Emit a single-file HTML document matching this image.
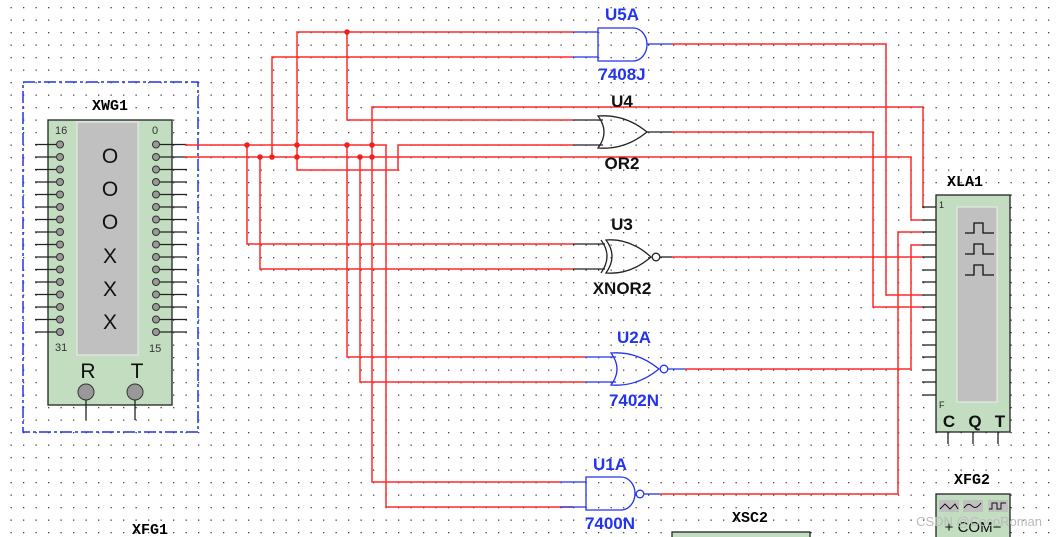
<!DOCTYPE html>
<html><head><meta charset="utf-8"><style>
html,body{margin:0;padding:0;background:#fff;}
svg{display:block;}
.lb{font-family:"Liberation Sans",Arial,sans-serif;font-weight:bold;font-size:17px;}
.mono{font-family:"Liberation Mono",monospace;font-weight:bold;font-size:15px;}
</style></head><body>
<svg width="1058" height="537" viewBox="0 0 1058 537" xmlns="http://www.w3.org/2000/svg">
<defs>
<pattern id="dots" x="10.5" y="7" width="12.5" height="12.5" patternUnits="userSpaceOnUse">
<rect x="0" y="0" width="1.3" height="1.3" fill="#444"/>
</pattern>
<g id="lp"><line x1="35" y1="0" x2="60" y2="0" stroke="#222" stroke-width="1.3"/><circle cx="60" cy="0" r="3.5" fill="#999" stroke="#333" stroke-width="1"/></g>
<g id="rp"><line x1="156" y1="0" x2="187" y2="0" stroke="#222" stroke-width="1.3"/><circle cx="156" cy="0" r="3.5" fill="#999" stroke="#333" stroke-width="1"/></g>
<line id="xp" x1="922" y1="0" x2="936" y2="0" stroke="#222" stroke-width="1.3"/>
</defs>
<rect width="1058" height="537" fill="url(#dots)"/>

<!-- XWG1 -->
<rect x="23" y="82" width="175" height="350" fill="none" stroke="#2233ee" stroke-width="1.5" stroke-dasharray="12,3,3,3"/>
<text x="110" y="110" class="mono" text-anchor="middle">XWG1</text>
<rect x="48" y="120" width="124" height="285" fill="#c2ddc0" stroke="#222" stroke-width="1.3"/>
<rect x="77" y="122" width="61" height="233" fill="#c0c0c0" stroke="#eee" stroke-width="1"/>
<g font-family="Liberation Sans,sans-serif" font-size="11" fill="#333">
<text x="55" y="134">16</text><text x="152" y="134">0</text>
<text x="55" y="351">31</text><text x="149" y="352">15</text></g>
<g font-family="Liberation Sans,sans-serif" font-size="21" fill="#111" text-anchor="middle">
<text x="110" y="163">O</text><text x="110" y="196">O</text><text x="110" y="229">O</text>
<text x="110" y="263">X</text><text x="110" y="296">X</text><text x="110" y="329">X</text>
<text x="88" y="378">R</text><text x="137" y="378">T</text></g>
<circle cx="86" cy="392" r="8" fill="#999" stroke="#333"/><circle cx="135" cy="392" r="8" fill="#999" stroke="#333"/>
<line x1="86" y1="400" x2="86" y2="420" stroke="#222" stroke-width="1.3"/>
<line x1="135" y1="400" x2="135" y2="420" stroke="#222" stroke-width="1.3"/>
<g>
<use href="#lp" y="144.5"/><use href="#lp" y="157"/><use href="#lp" y="169.5"/><use href="#lp" y="182"/>
<use href="#lp" y="194.5"/><use href="#lp" y="207"/><use href="#lp" y="219.5"/><use href="#lp" y="232"/>
<use href="#lp" y="244.5"/><use href="#lp" y="257"/><use href="#lp" y="269.5"/><use href="#lp" y="282"/>
<use href="#lp" y="294.5"/><use href="#lp" y="307"/><use href="#lp" y="319.5"/><use href="#lp" y="332"/>
<use href="#rp" y="144.5"/><use href="#rp" y="157"/><use href="#rp" y="169.5"/><use href="#rp" y="182"/>
<use href="#rp" y="194.5"/><use href="#rp" y="207"/><use href="#rp" y="219.5"/><use href="#rp" y="232"/>
<use href="#rp" y="244.5"/><use href="#rp" y="257"/><use href="#rp" y="269.5"/><use href="#rp" y="282"/>
<use href="#rp" y="294.5"/><use href="#rp" y="307"/><use href="#rp" y="319.5"/><use href="#rp" y="332"/>
</g>

<!-- red wires -->
<g fill="none" stroke="#ff2a2a" stroke-width="1.5">
<polyline points="185,145 386,145 386,507 573,507"/>
<polyline points="185,157 911,157 911,220 922,220"/>
<polyline points="247,145 247,244 573,244"/>
<polyline points="260,157 260,269 573,269"/>
<polyline points="272,157 272,57 573,57"/>
<polyline points="297,145 297,32 573,32"/>
<polyline points="297,145 297,170 398,170 398,145 573,145"/>
<polyline points="347,32 347,120 573,120"/>
<polyline points="347,145 347,357 585,357"/>
<polyline points="360,157 360,382 585,382"/>
<polyline points="372,145 372,482 560,482"/>
<polyline points="372,145 372,107 923,107 923,207"/>
<polyline points="672,44 886,44 886,295 922,295"/>
<polyline points="672,132 873,132 873,307 922,307"/>
<polyline points="672,257 922,257"/>
<polyline points="685,369 911,369 911,245 922,245"/>
<polyline points="660,494 898,494 898,232 922,232"/>
</g>
<g fill="#f02020">
<circle cx="247" cy="145" r="2.8"/><circle cx="297" cy="145" r="2.8"/><circle cx="347" cy="145" r="2.8"/><circle cx="372" cy="145" r="2.8"/>
<circle cx="260" cy="157" r="2.8"/><circle cx="272" cy="157" r="2.8"/><circle cx="297" cy="157" r="2.8"/><circle cx="360" cy="157" r="2.8"/><circle cx="372" cy="157" r="2.8"/>
<circle cx="347" cy="32" r="2.8"/>
</g>

<!-- U5A AND -->
<g fill="none" stroke="#2233ee" stroke-width="1.3">
<line x1="573" y1="32" x2="598" y2="32"/><line x1="573" y1="57" x2="598" y2="57"/>
<path d="M598,28 L633,28 A14,16.5 0 0 1 633,61 L598,61 Z"/>
<line x1="647" y1="44" x2="672" y2="44"/>
</g>
<text x="622" y="20" class="lb" fill="#2233ee" text-anchor="middle">U5A</text>
<text x="622" y="80" class="lb" fill="#2233ee" text-anchor="middle">7408J</text>

<!-- U4 OR -->
<g fill="none" stroke="#222" stroke-width="1.3">
<line x1="573" y1="120" x2="603" y2="120"/><line x1="573" y1="145" x2="603" y2="145"/>
<path d="M598,116 Q625,114 647,132 Q625,150 598,148 Q610,132 598,116 Z"/>
<line x1="647" y1="132" x2="672" y2="132"/>
</g>
<text x="622" y="107" class="lb" fill="#111" text-anchor="middle">U4</text>
<text x="622" y="169" class="lb" fill="#111" text-anchor="middle">OR2</text>

<!-- U3 XNOR -->
<g fill="none" stroke="#222" stroke-width="1.3">
<line x1="573" y1="244" x2="605" y2="244"/><line x1="573" y1="269" x2="605" y2="269"/>
<path d="M601,240 Q613,256 601,273"/>
<path d="M606,240 Q630,238 651,257 Q630,275 606,273 Q618,256 606,240 Z"/>
<circle cx="656" cy="257" r="3.8" fill="#fff"/>
<line x1="660" y1="257" x2="672" y2="257"/>
</g>
<text x="622" y="230" class="lb" fill="#111" text-anchor="middle">U3</text>
<text x="622" y="294" class="lb" fill="#111" text-anchor="middle">XNOR2</text>

<!-- U2A NOR -->
<g fill="none" stroke="#2233ee" stroke-width="1.3">
<line x1="585" y1="357" x2="616" y2="357"/><line x1="585" y1="382" x2="616" y2="382"/>
<path d="M611,353 Q637,351 659,369 Q637,387 611,385 Q623,369 611,353 Z"/>
<circle cx="664" cy="369" r="3.8" fill="#fff"/>
<line x1="668" y1="369" x2="685" y2="369"/>
</g>
<text x="634" y="343" class="lb" fill="#2233ee" text-anchor="middle">U2A</text>
<text x="634" y="406" class="lb" fill="#2233ee" text-anchor="middle">7402N</text>

<!-- U1A NAND -->
<g fill="none" stroke="#2233ee" stroke-width="1.3">
<line x1="560" y1="482" x2="586" y2="482"/><line x1="560" y1="507" x2="586" y2="507"/>
<path d="M586,477 L621,477 A14,16.5 0 0 1 621,510 L586,510 Z"/>
<circle cx="640" cy="494" r="3.8" fill="#fff"/>
<line x1="644" y1="494" x2="660" y2="494"/>
</g>
<text x="610" y="470" class="lb" fill="#2233ee" text-anchor="middle">U1A</text>
<text x="610" y="529" class="lb" fill="#2233ee" text-anchor="middle">7400N</text>

<!-- XLA1 -->
<text x="965" y="186" class="mono" text-anchor="middle">XLA1</text>
<rect x="936" y="195" width="74" height="237" fill="#c2ddc0" stroke="#222" stroke-width="1.3"/>
<rect x="957" y="207" width="40" height="195" fill="#c0c0c0" stroke="#eee" stroke-width="1"/>
<g fill="none" stroke="#111" stroke-width="1.3">
<polyline points="965,233 974,233 974,223 983,223 983,233 994,233"/>
<polyline points="965,254 974,254 974,244 983,244 983,254 994,254"/>
<polyline points="965,275 974,275 974,265 983,265 983,275 994,275"/>
</g>
<g font-family="Liberation Sans,sans-serif" font-size="9" fill="#222"><text x="939" y="208">1</text><text x="939" y="408">F</text></g>
<g class="lb" font-size="17" fill="#111" text-anchor="middle"><text x="949" y="427">C</text><text x="975" y="427">Q</text><text x="1000" y="427">T</text></g>
<g stroke="#222" stroke-width="1.3">
<line x1="948" y1="432" x2="948" y2="444"/><line x1="973" y1="432" x2="973" y2="444"/><line x1="998" y1="432" x2="998" y2="444"/>
</g>
<g>
<use href="#xp" y="207"/><use href="#xp" y="220"/><use href="#xp" y="232"/><use href="#xp" y="245"/>
<use href="#xp" y="257"/><use href="#xp" y="270"/><use href="#xp" y="282"/><use href="#xp" y="295"/>
<use href="#xp" y="307"/><use href="#xp" y="320"/><use href="#xp" y="332"/><use href="#xp" y="345"/>
<use href="#xp" y="357"/><use href="#xp" y="370"/><use href="#xp" y="382"/><use href="#xp" y="395"/>
</g>

<!-- XFG2 -->
<text x="972" y="484" class="mono" text-anchor="middle">XFG2</text>
<rect x="936" y="494" width="74" height="50" fill="#c2ddc0" stroke="#222" stroke-width="1.3"/>
<rect x="939" y="500" width="20" height="12" fill="#c0c0c0"/><rect x="963" y="500" width="20" height="12" fill="#c0c0c0"/><rect x="988" y="500" width="20" height="12" fill="#c0c0c0"/>
<g fill="none" stroke="#111" stroke-width="1">
<polyline points="940,509 945,504 950,509 955,504 958,509"/>
<path d="M964,508 Q968,502 972,506 Q976,510 981,503"/>
<polyline points="989,509 992,509 992,503 997,503 997,509 1001,509 1001,503 1006,503"/>
</g>
<text x="973" y="532" font-family="Liberation Sans,sans-serif" font-size="15" fill="#111" text-anchor="middle">+ COM−</text>

<!-- XSC2, XFG1 -->
<text x="750" y="522" class="mono" text-anchor="middle">XSC2</text>
<rect x="672" y="532" width="138" height="10" fill="#c2ddc0" stroke="#222" stroke-width="1.3"/>
<text x="150" y="534" class="mono" text-anchor="middle">XFG1</text>

<text x="1042" y="526" font-family="Liberation Sans,sans-serif" font-size="13" fill="#bbb" text-anchor="end">CSDN @CocoRoman</text>
</svg>
</body></html>
